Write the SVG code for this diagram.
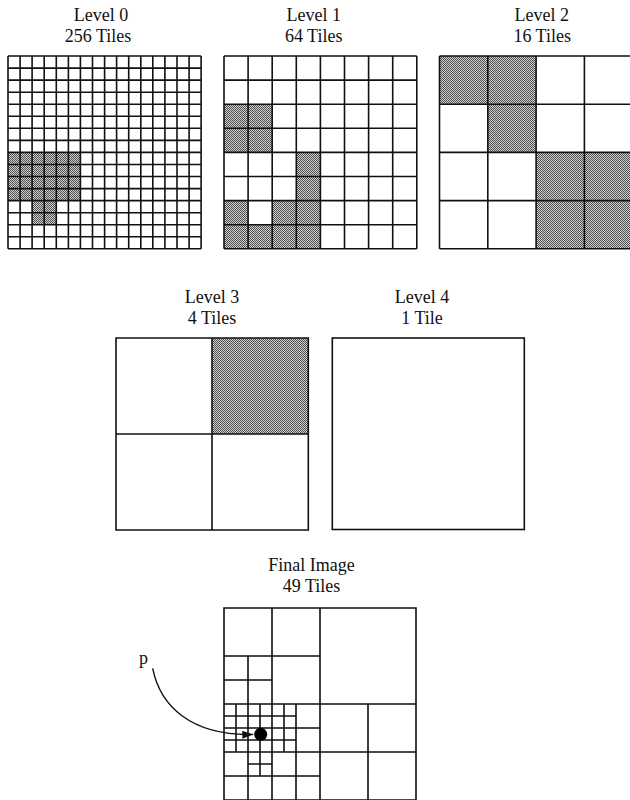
<svg xmlns="http://www.w3.org/2000/svg" width="630" height="800" viewBox="0 0 630 800">
<style>
text{font-family:"Liberation Serif","Times New Roman",serif;font-size:18px;fill:#111;text-anchor:middle}
.g{fill:none;stroke:#111;stroke-width:1.6}
.s{fill:url(#dots);stroke:none}
.c{fill:none;stroke:#111;stroke-width:1.4}
</style>
<defs>
<pattern id="dots" patternUnits="userSpaceOnUse" width="2" height="2">
<rect width="2" height="2" fill="#cfcfcf"/>
<rect width="1" height="1" fill="#505050"/>
<rect x="1" y="1" width="1" height="1" fill="#505050"/>
</pattern>
<marker id="ah" markerUnits="userSpaceOnUse" markerWidth="12" markerHeight="9" refX="11" refY="4" orient="auto">
<path d="M0,0 L11,4 L0,8 z" fill="#111"/>
</marker>
</defs>
<rect width="630" height="800" fill="#fff"/>

<g id="level0">
<text x="101" y="20.7">Level 0</text>
<text x="98" y="42">256 Tiles</text>
<rect class="s" x="8" y="152.4" width="72.4" height="48.2"/>
<rect class="s" x="32.1" y="200.6" width="24.2" height="24.1"/>
<path class="g" d="M8,56V248.8M20.1,56V248.8M32.1,56V248.8M44.2,56V248.8M56.3,56V248.8M68.4,56V248.8M80.4,56V248.8M92.5,56V248.8M104.6,56V248.8M116.6,56V248.8M128.7,56V248.8M140.8,56V248.8M152.8,56V248.8M164.9,56V248.8M177,56V248.8M189.1,56V248.8M201.1,56V248.8
M8,56H201.1M8,68.1H201.1M8,80.1H201.1M8,92.2H201.1M8,104.2H201.1M8,116.3H201.1M8,128.3H201.1M8,140.4H201.1M8,152.4H201.1M8,164.5H201.1M8,176.5H201.1M8,188.6H201.1M8,200.6H201.1M8,212.7H201.1M8,224.7H201.1M8,236.8H201.1M8,248.8H201.1"/>
</g>

<g id="level1">
<text x="313.7" y="20.7">Level 1</text>
<text x="313.7" y="42">64 Tiles</text>
<rect class="s" x="224" y="104.2" width="48.2" height="48.2"/>
<rect class="s" x="296.3" y="152.4" width="24.1" height="48.2"/>
<rect class="s" x="224" y="200.6" width="24.1" height="24.1"/>
<rect class="s" x="272.2" y="200.6" width="48.2" height="24.1"/>
<rect class="s" x="224" y="224.7" width="96.4" height="24.1"/>
<path class="g" d="M224,56V248.8M248.1,56V248.8M272.2,56V248.8M296.3,56V248.8M320.4,56V248.8M344.5,56V248.8M368.6,56V248.8M392.7,56V248.8M416.8,56V248.8
M224,56H416.8M224,80.1H416.8M224,104.2H416.8M224,128.3H416.8M224,152.4H416.8M224,176.5H416.8M224,200.6H416.8M224,224.7H416.8M224,248.8H416.8"/>
</g>

<g id="level2">
<text x="541.7" y="20.7">Level 2</text>
<text x="542.2" y="42">16 Tiles</text>
<rect class="s" x="439.5" y="56" width="96.6" height="48.2"/>
<rect class="s" x="487.8" y="104.2" width="48.3" height="48.2"/>
<rect class="s" x="536.1" y="152.4" width="96.6" height="96.4"/>
<path class="g" d="M439.5,56V248.8M487.8,56V248.8M536.1,56V248.8M584.4,56V248.8M632.7,56V248.8
M439.5,56H632.7M439.5,104.2H632.7M439.5,152.4H632.7M439.5,200.6H632.7M439.5,248.8H632.7"/>
</g>

<g id="level3">
<text x="212" y="302.7">Level 3</text>
<text x="212" y="324.3">4 Tiles</text>
<rect class="s" x="212" y="338" width="96.3" height="96"/>
<path class="g" d="M116,338H308.3V530H116ZM212,338V530M116,434H308.3"/>
</g>

<g id="level4">
<text x="422" y="302.7">Level 4</text>
<text x="422" y="324.3">1 Tile</text>
<rect class="g" x="332.3" y="338" width="192" height="191.5"/>
</g>

<g id="final">
<text x="311.5" y="570.7">Final Image</text>
<text x="311.5" y="592.3">49 Tiles</text>
<path class="g" d="M224,608H416V800H224Z
M320,608V800M224,704H416M272,608V800M224,656H320M248,656V800M224,680H272M224,752H416M368,704V800
M236,704V752M260,704V776M284,704V752M296,704V800
M224,716H296M224,728H320M224,740H296
M248,764H272M224,776H320"/>
<circle cx="260.7" cy="734.3" r="6.5" fill="#000"/>
<text x="143.5" y="664">p</text>
</g>

<g id="connectors">
<path class="c" d="M152.7,668.3 C160,705 190,736 253.3,734.4" marker-end="url(#ah)"/>
</g>
</svg>
